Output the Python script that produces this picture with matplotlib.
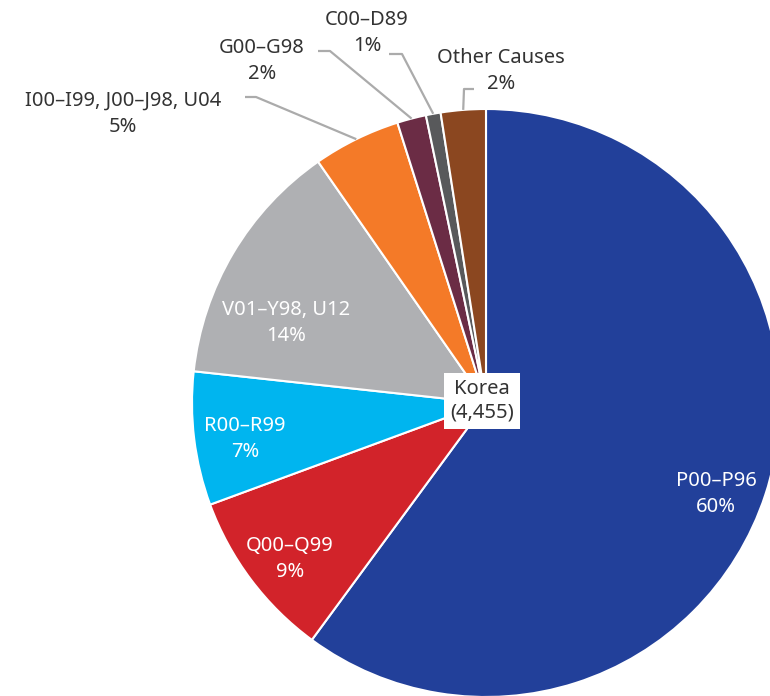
import matplotlib.pyplot as plt
import numpy as np

# cause groups, clockwise from 12 o'clock (total 4,455)
causes = ["P00–P96", "Q00–Q99", "R00–R99", "V01–Y98, U12",
          "I00–I99, J00–J98, U04", "G00–G98", "C00–D89", "Other Causes"]
counts = [2677, 414, 327, 606, 214, 71, 36, 110]
pct_labels = ["60%", "9%", "7%", "14%", "5%", "2%", "1%", "2%"]
colors = ["#22409A", "#D2232A", "#00B5EF", "#AFB0B3",
          "#F47A28", "#6B2C45", "#58595B", "#8B4720"]
total_label = "Korea\n(4,455)"

W, H = 770, 696
plt.rcParams["font.family"] = ["Noto Sans", "DejaVu Sans"]

fig = plt.figure(figsize=(W / 100, H / 100), dpi=100)
ax = fig.add_axes([0, 0, 1, 1])

cx, cy, R = 486, H - 403, 294
wedges, _ = ax.pie(counts, colors=colors, startangle=90, counterclock=False,
                   center=(cx, cy), radius=R, frame=True,
                   wedgeprops=dict(edgecolor="white", linewidth=1.5))
ax.set_xlim(0, W)
ax.set_ylim(0, H)
ax.set_aspect("equal")
ax.axis("off")

def px(x, y):
    return x, H - y

FS = 14.5

# labels inside the pie (white)
inside = {0: (716, 494), 1: (290, 559), 2: (245, 439), 3: (286, 323)}
for i, (x, y) in inside.items():
    ax.text(*px(x, y), f"{causes[i]}\n{pct_labels[i]}", color="white",
            fontsize=FS, ha="center", va="center", linespacing=1.4)

# labels outside with leader lines
outside = {
    4: dict(text=(123, 114), start=(245, 97), elbow=(256, 97)),
    5: dict(text=(262, 61), start=(318, 51), elbow=(330, 51)),
    6: dict(text=(367, 33), start=(389, 54), elbow=(402, 54)),
    7: dict(text=(501, 71), start=(474, 89), elbow=(464, 89)),
}
for i, o in outside.items():
    w = wedges[i]
    mid = np.deg2rad((w.theta1 + w.theta2) / 2)
    rim = (cx + R * np.cos(mid), cy + R * np.sin(mid))
    s, e = px(*o["start"]), px(*o["elbow"])
    ax.plot([s[0], e[0], rim[0]], [s[1], e[1], rim[1]],
            color="#ABABAB", lw=1.6, solid_capstyle="butt")
    ax.text(*px(*o["text"]), f"{causes[i]}\n{pct_labels[i]}", color="#333333",
            fontsize=FS, ha="center", va="center", linespacing=1.4)

ax.text(*px(482, 401), total_label, color="#333333", fontsize=FS,
        ha="center", va="center", linespacing=1.2,
        bbox=dict(boxstyle="square,pad=0.3", fc="white", ec="none"))

fig.savefig("out.png", dpi=100)
